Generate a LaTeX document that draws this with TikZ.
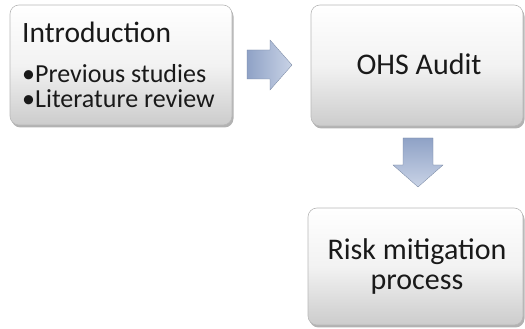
\documentclass[tikz,border=0pt]{standalone}
\usepackage{fontspec}
\setmainfont{Carlito}
\usetikzlibrary{shadows}
\definecolor{arrowA}{HTML}{8FA2C6}
\definecolor{arrowB}{HTML}{C9D3E6}
\definecolor{boxedge}{HTML}{B8B8B8}
\tikzset{
  x=1pt,y=1pt,
  boxshape/.style={rounded corners=9pt, draw=boxedge, line width=0.6pt,
    top color=white, bottom color=black!20, middle color=white!95!black,
    drop shadow={shadow xshift=1.5pt, shadow yshift=-2.5pt, fill=black, opacity=0.3}},
  arrowshape/.style={draw=arrowA!80!black, line width=0.3pt, left color=arrowA, right color=arrowB},
  arrowshapev/.style={draw=arrowA!80!black, line width=0.3pt, left color=arrowA, right color=arrowB, shading angle=0},
  bigtext/.style={font=\fontsize{30}{30}\selectfont, text=black!90, inner sep=0pt},
  midtext/.style={font=\fontsize{29.5}{29.5}\selectfont, text=black!90, inner sep=0pt, anchor=base west},
  smalltext/.style={font=\fontsize{26}{26}\selectfont, text=black!90, inner sep=0pt, anchor=base west},
}
\begin{document}
\begin{tikzpicture}
\useasboundingbox (0,0) rectangle (525,329);
% boxes
\path[boxshape] (10,204) rectangle (232,324);
\path[boxshape] (311,203) rectangle (523,324);
\path[boxshape] (308,4) rectangle (523,121);
% texts
\node[midtext] (intro) at (22,286) {Introduction};
\node[smalltext] (prev) at (22,246) {\textbullet Previous studies};
\node[smalltext] (lit) at (22,221) {\textbullet Literature review};
\node[bigtext, anchor=base] (ohs) at (419,254) {OHS Audit};
\node[bigtext, anchor=base] (risk) at (417,69) {Risk mitigation};
\node[bigtext, anchor=base] (proc) at (417,39) {process};
% arrows
\path[arrowshape] (247,250) -- (270,250) -- (270,239) -- (292,264) -- (270,289) -- (270,279) -- (247,279) -- cycle;
\path[arrowshapev] (403,191) -- (433,191) -- (433,164) -- (443,164) -- (418,142) -- (393,164) -- (403,164) -- cycle;
\end{tikzpicture}
\end{document}
